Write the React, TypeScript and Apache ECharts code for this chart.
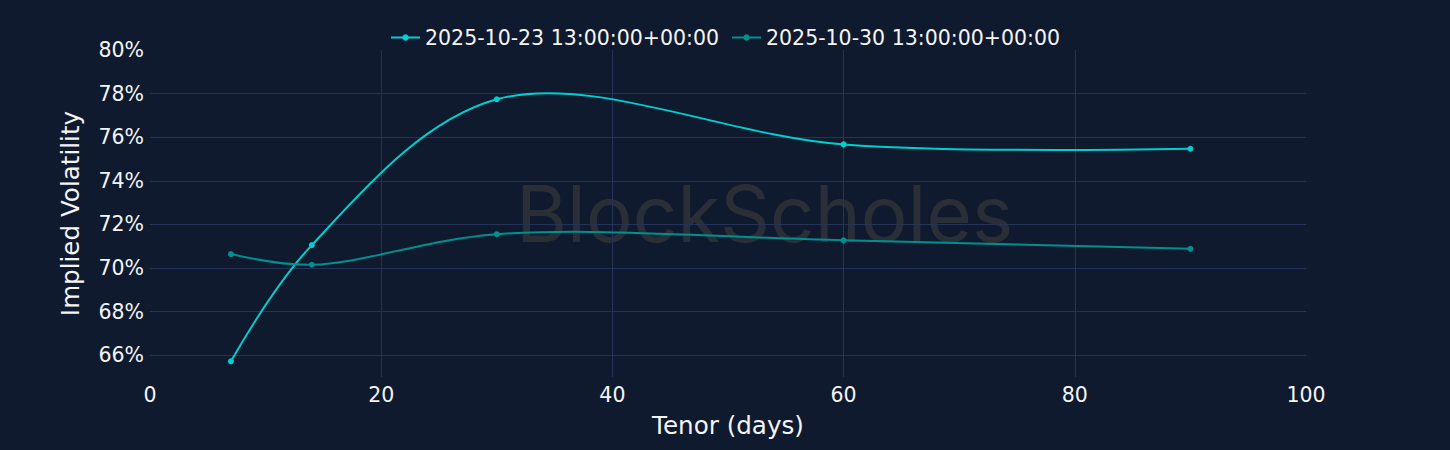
import React, { useEffect, useRef } from "react";
import * as echarts from "echarts";

const tenors = [7, 14, 30, 60, 90];
const seriesNames = ["2025-10-23 13:00:00+00:00", "2025-10-30 13:00:00+00:00"];
const ivOct23 = [65.72, 71.05, 77.74, 75.67, 75.47];
const ivOct30 = [70.64, 70.15, 71.55, 71.27, 70.88];
const xTicks = [0, 20, 40, 60, 80, 100];
const yMin = 65;
const yMax = 80;

const BG = "#0f1a2e";
const GRID = "#243357";
const C1 = "#00cfd0";
const C2 = "#009090";
const FONT = "DejaVu Sans";
const TXT = "#f4f4f4";

type Pt = number[];

// Catmull-Rom style tangent (spline with smoothing 1)
function makeTangent(prev: Pt, cur: Pt, next: Pt, smoothness: number): Pt[] {
  const d1x = prev[0] - cur[0];
  const d1y = prev[1] - cur[1];
  const d2x = next[0] - cur[0];
  const d2y = next[1] - cur[1];
  const d1a = Math.pow(d1x * d1x + d1y * d1y, 0.25);
  const d2a = Math.pow(d2x * d2x + d2y * d2y, 0.25);
  const numx = (d2a * d2a * d1x - d1a * d1a * d2x) * smoothness;
  const numy = (d2a * d2a * d1y - d1a * d1a * d2y) * smoothness;
  const denom1 = 3 * d2a * (d1a + d2a);
  const denom2 = 3 * d1a * (d1a + d2a);
  return [
    [cur[0] + (denom1 ? numx / denom1 : 0), cur[1] + (denom1 ? numy / denom1 : 0)],
    [cur[0] - (denom2 ? numx / denom2 : 0), cur[1] - (denom2 ? numy / denom2 : 0)],
  ];
}

function smoothOpen(pts: Pt[], smoothness: number): string {
  const f = (p: Pt) => `${p[0].toFixed(2)} ${p[1].toFixed(2)}`;
  if (pts.length < 3) return "M" + pts.map(f).join("L");
  const tangents: Pt[][] = [];
  for (let i = 1; i < pts.length - 1; i++) {
    tangents.push(makeTangent(pts[i - 1], pts[i], pts[i + 1], smoothness));
  }
  let d = "M" + f(pts[0]);
  d += "Q" + f(tangents[0][0]) + " " + f(pts[1]);
  for (let i = 2; i < pts.length - 1; i++) {
    d += "C" + f(tangents[i - 2][1]) + " " + f(tangents[i - 1][0]) + " " + f(pts[i]);
  }
  d += "Q" + f(tangents[pts.length - 3][1]) + " " + f(pts[pts.length - 1]);
  return d;
}

function splineSeries(name: string, values: number[], color: string) {
  return {
    name,
    type: "custom",
    z: 2,
    silent: true,
    data: [[tenors[0], values[0]]],
    renderItem: (_params: any, api: any) => {
      const pts = tenors.map((t, i) => api.coord([t, values[i]]));
      return {
        type: "path",
        shape: { pathData: smoothOpen(pts, 1) },
        style: { stroke: color, fill: "none", lineWidth: 2 },
      };
    },
  };
}

export default function App() {
  const ref = useRef<HTMLDivElement>(null);
  useEffect(() => {
    if (!ref.current) return;
    const chart = echarts.init(ref.current, undefined, { renderer: "svg" });
    const yCount = yMax - yMin + 1;
    const yColors: string[] = [];
    for (let i = 0; i < yCount; i++) {
      const v = yMin + i;
      yColors.push(v % 2 === 0 && v !== yMax ? GRID : "rgba(0,0,0,0)");
    }
    const xColors = xTicks.map((t, i) => (i === 0 || i === xTicks.length - 1 ? "rgba(0,0,0,0)" : GRID));
    chart.setOption({
      animation: false,
      backgroundColor: BG,
      textStyle: { fontFamily: FONT },
      graphic: [
        {
          type: "text",
          left: 516,
          top: 174,
          silent: true,
          z: -1,
          style: {
            text: "BlockScholes",
            fontFamily: "Inter",
            fontSize: 78,
            fontWeight: 400,
            fill: "#2a2e37",
          },
        },
      ],
      legend: {
        top: 22,
        left: "center",
        itemWidth: 29,
        itemHeight: 8,
        itemGap: 12,
        textStyle: { color: TXT, fontSize: 20.5, fontFamily: FONT },
        lineStyle: { opacity: 1, width: 2 },
        data: seriesNames,
      },
      grid: { left: 150, right: 144, top: 50, bottom: 73 },
      xAxis: {
        type: "value",
        min: 0,
        max: 100,
        interval: 20,
        name: "Tenor (days)",
        nameLocation: "middle",
        nameGap: 36,
        nameTextStyle: { color: TXT, fontSize: 24.6, fontFamily: FONT },
        axisLine: { show: false },
        axisTick: { show: false },
        axisLabel: { color: TXT, fontSize: 20.5, margin: 7, fontFamily: FONT },
        splitLine: { show: true, lineStyle: { color: xColors, width: 1 } },
      },
      yAxis: {
        type: "value",
        min: yMin,
        max: yMax,
        interval: 1,
        name: "Implied Volatility",
        nameLocation: "middle",
        nameGap: 67,
        nameTextStyle: { color: TXT, fontSize: 24.6, fontFamily: FONT },
        axisLine: { show: false },
        axisTick: { show: false },
        axisLabel: {
          color: TXT,
          fontSize: 20.5,
          margin: 6,
          fontFamily: FONT,
          interval: 0,
          formatter: (v: number) => (Math.round(v) % 2 === 0 ? `${Math.round(v)}%` : ""),
        },
        splitLine: { show: true, lineStyle: { color: yColors, width: 1 } },
      },
      series: [
        {
          name: seriesNames[0],
          type: "line",
          z: 3,
          symbol: "circle",
          symbolSize: 6,
          lineStyle: { color: C1, width: 2, opacity: 0 },
          itemStyle: { color: C1 },
          data: tenors.map((t, i) => [t, ivOct23[i]]),
        },
        {
          name: seriesNames[1],
          type: "line",
          z: 3,
          symbol: "circle",
          symbolSize: 6,
          lineStyle: { color: C2, width: 2, opacity: 0 },
          itemStyle: { color: C2 },
          data: tenors.map((t, i) => [t, ivOct30[i]]),
        },
        splineSeries(seriesNames[0], ivOct23, C1),
        splineSeries(seriesNames[1], ivOct30, C2),
      ],
    });
    return () => chart.dispose();
  }, []);
  return (
    <div style={{ position: "absolute", left: 0, top: 0, width: 1450, height: 450, background: BG }}>
      <div ref={ref} style={{ width: 1450, height: 450 }} />
    </div>
  );
}
